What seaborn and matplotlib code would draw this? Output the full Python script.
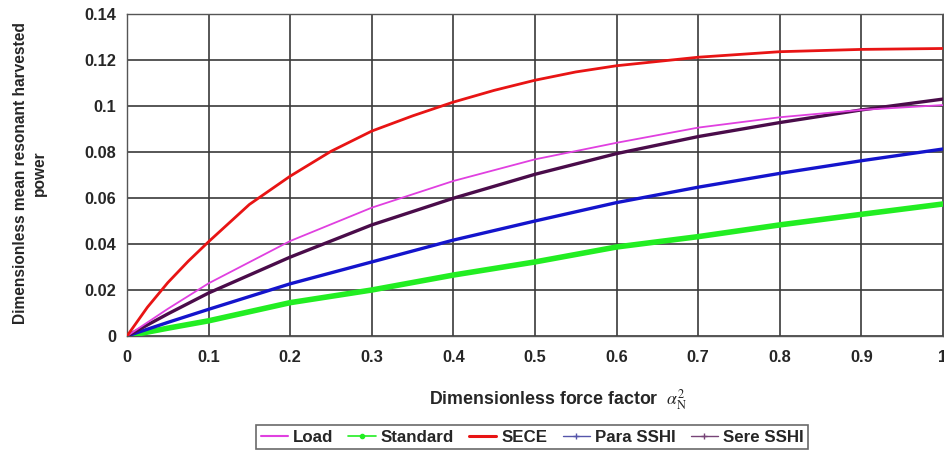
import matplotlib
matplotlib.use("Agg")
import matplotlib.pyplot as plt
from matplotlib.lines import Line2D
import seaborn as sns
import pandas as pd

# ---- data ----
x_sece = [0, 0.025, 0.05, 0.075, 0.1, 0.15, 0.2, 0.25, 0.3, 0.35, 0.4, 0.45, 0.5, 0.55,
          0.6, 0.7, 0.8, 0.9, 1.0]
sece = [0, 0.0125, 0.0232, 0.0325, 0.0410, 0.0572, 0.0695, 0.0803, 0.0891, 0.0957, 0.1017,
        0.1068, 0.1112, 0.1148, 0.1175, 0.1212, 0.1236, 0.1246, 0.1250]

x_std = [0, 0.05, 0.1, 0.2, 0.3, 0.4, 0.5, 0.6, 0.7, 0.8, 0.9, 1.0]
load = [0, 0.0118, 0.0229, 0.0413, 0.0558, 0.0674, 0.0768, 0.0840, 0.0906, 0.0951, 0.0983, 0.1004]
standard = [0, 0.0034, 0.0066, 0.0145, 0.0200, 0.0265, 0.0322, 0.0387, 0.0432, 0.0483, 0.0529, 0.0574]
para_sshi = [0, 0.0059, 0.0116, 0.0227, 0.0322, 0.0417, 0.0500, 0.0580, 0.0647, 0.0707, 0.0762, 0.0813]
sere_sshi = [0, 0.0096, 0.0187, 0.0343, 0.0483, 0.0599, 0.0703, 0.0793, 0.0867, 0.0928, 0.0983, 0.1030]

x_ticks = [0, 0.1, 0.2, 0.3, 0.4, 0.5, 0.6, 0.7, 0.8, 0.9, 1.0]
x_ticklabels = ["0", "0.1", "0.2", "0.3", "0.4", "0.5", "0.6", "0.7", "0.8", "0.9", "1"]
y_ticks = [0, 0.02, 0.04, 0.06, 0.08, 0.1, 0.12, 0.14]
y_ticklabels = ["0", "0.02", "0.04", "0.06", "0.08", "0.1", "0.12", "0.14"]

series_names = ["Load", "Standard", "SECE", "Para SSHI", "Sere SSHI"]
colors = {"Load": "#e040e0", "Standard": "#22ee22", "SECE": "#e81414",
          "Para SSHI": "#1414cc", "Sere SSHI": "#4a0c4a"}
widths = {"Load": 1.3, "Standard": 4.0, "SECE": 2.0, "Para SSHI": 2.4, "Sere SSHI": 2.4}

sns.set_style("white")
plt.rcParams["font.family"] = ["Liberation Sans", "DejaVu Sans"]
plt.rcParams["mathtext.fontset"] = "stix"

fig = plt.figure(figsize=(9.45, 4.51), dpi=100)
ax = fig.add_axes([0.1344, 0.2550, 0.8635, 0.7140])

frames = {
    "Standard": pd.DataFrame({"x": x_std, "y": standard}),
    "Para SSHI": pd.DataFrame({"x": x_std, "y": para_sshi}),
    "Sere SSHI": pd.DataFrame({"x": x_std, "y": sere_sshi}),
    "Load": pd.DataFrame({"x": x_std, "y": load}),
    "SECE": pd.DataFrame({"x": x_sece, "y": sece}),
}
for name in ["Standard", "Para SSHI", "Sere SSHI", "Load", "SECE"]:
    sns.lineplot(data=frames[name], x="x", y="y", ax=ax, color=colors[name],
                 linewidth=widths[name], zorder=3, legend=False)

ax.set_xlim(0, 1)
ax.set_ylim(0, 0.14)
ax.set_xticks(x_ticks)
ax.set_xticklabels(x_ticklabels)
ax.set_yticks(y_ticks)
ax.set_yticklabels(y_ticklabels)
ax.grid(True, color="#3a3a3a", linewidth=1.2)
ax.set_axisbelow(True)
for s in ["left", "bottom", "top", "right"]:
    ax.spines[s].set_color("#555555")
    ax.spines[s].set_linewidth(1.0)
ax.tick_params(axis="both", direction="out", length=5, width=1, color="#555555",
               labelsize=11.8)
ax.tick_params(axis="y", pad=2.5)
ax.tick_params(axis="x", pad=5)
for lab in ax.get_xticklabels() + ax.get_yticklabels():
    lab.set_fontweight("bold")

ax.set_xlabel(r"Dimensionless force factor  $\alpha_{\mathrm{N}}^{2}$", fontsize=12.8,
              fontweight="bold")
ax.xaxis.set_label_coords(0.528, -0.16)
ax.set_ylabel("Dimensionless mean resonant harvested\npower", fontsize=11.2,
              fontweight="bold", linespacing=1.3)
ax.yaxis.set_label_coords(-0.098, 0.505)

handles = [
    Line2D([], [], color=colors["Load"], lw=1.5),
    Line2D([], [], color=colors["Standard"], lw=1.2, marker="o", markersize=3),
    Line2D([], [], color=colors["SECE"], lw=2.2),
    Line2D([], [], color="#5555aa", lw=1.0, marker="+", markersize=4),
    Line2D([], [], color="#774477", lw=1.0, marker="+", markersize=4),
]
leg = fig.legend(handles, series_names, loc="center", bbox_to_anchor=(0.563, 0.031),
                 ncol=5, frameon=True, fancybox=False, handlelength=1.6, handletextpad=0.3,
                 columnspacing=0.9, borderpad=0.25,
                 prop={"family": "Liberation Sans", "weight": "bold", "size": 12.2})
leg.get_frame().set_edgecolor("#444444")
leg.get_frame().set_linewidth(1.2)

fig.savefig("out.png", dpi=100)
